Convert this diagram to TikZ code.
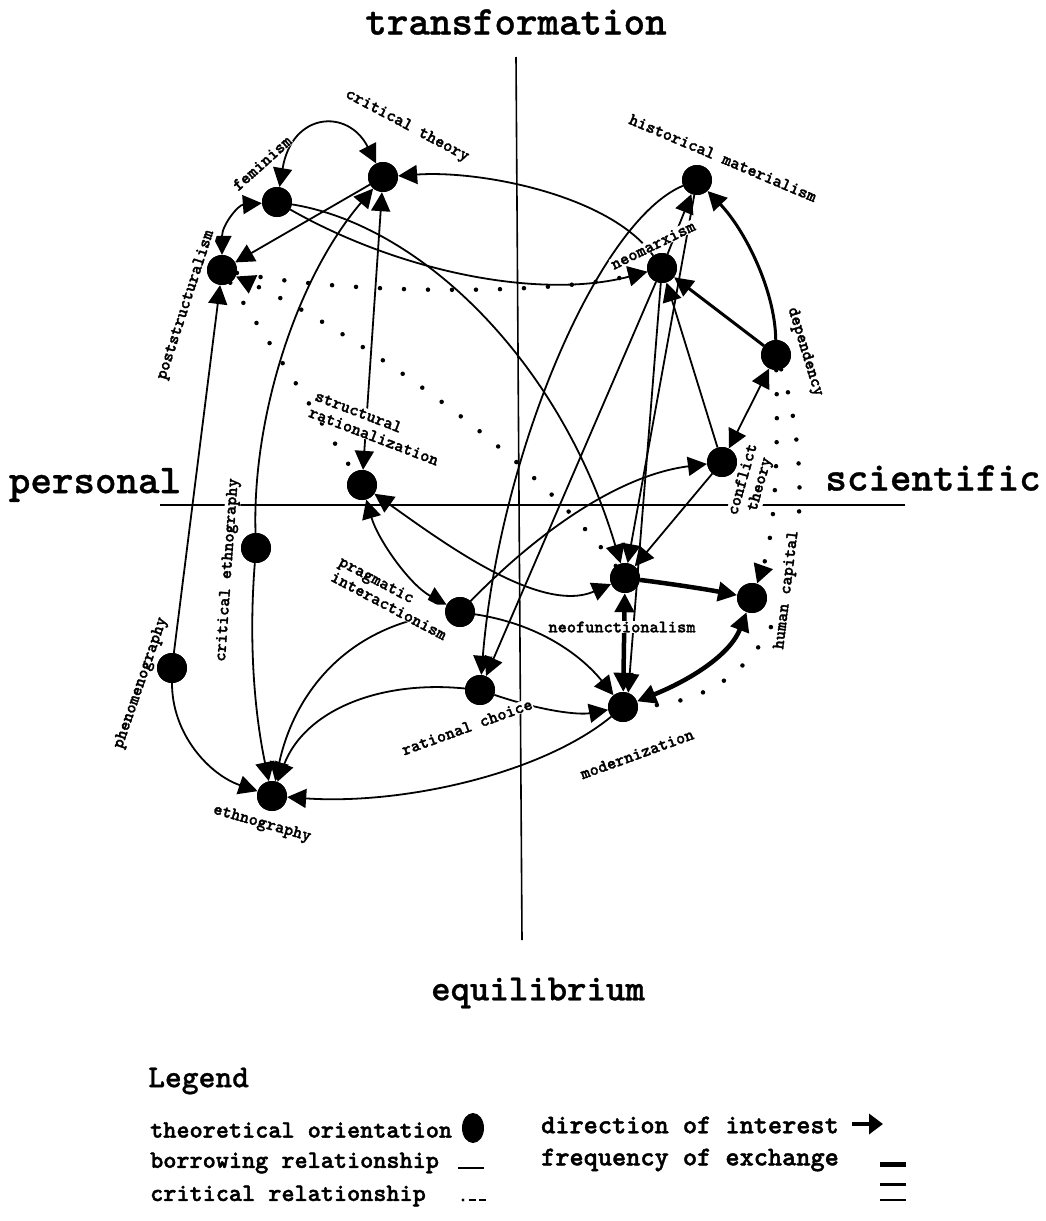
\documentclass[tikz,border=0pt]{standalone}
\usepackage{fontspec}
\newfontfamily\cour{lmmonolt10-bold}[Extension=.otf,FakeBold=1.6]
\newfontfamily\courbig{lmmonolt10-bold}[Extension=.otf,FakeBold=0.8]
\usetikzlibrary{arrows.meta,shapes.geometric}
\begin{document}
\begin{tikzpicture}[x=1pt,y=-1pt,
  tn/.style={circle,fill=black,minimum size=30pt,inner sep=0pt},
  lab/.style={font=\cour\fontsize{17.5}{17.5}\selectfont,fill=white,inner sep=0.5pt},
  axl/.style={font=\courbig\fontsize{41}{43}\selectfont},
  lgt/.style={font=\cour\fontsize{25}{27}\selectfont,anchor=west,inner sep=0pt},
  rel/.style={line width=1.8pt},
  thk/.style={line width=4.5pt},
  med/.style={line width=3pt},
  tip/.style={-{Triangle[length=19pt,width=19pt]}},
  both/.style={{Triangle[length=19pt,width=19pt]}-{Triangle[length=19pt,width=19pt]}},
  crit/.style={line width=4.5pt,line cap=round,dash pattern=on 0pt off 24pt},
  axis/.style={line width=1.6pt}
]
\useasboundingbox (0,0) rectangle (1045,1221);

% axes
\coordinate (vt) at (516,57);
\coordinate (vb) at (522,940);
\coordinate (hl) at (160,505);
\coordinate (hr) at (905,505);
\draw[axis] (vt) -- (vb);
\draw[axis] (hl) -- (hr);

% theoretical orientations (positions)
\path (383,177) node[tn] (ct) {}
      (277,202) node[tn] (fem) {}
      (222,270) node[tn] (post) {}
      (697,180) node[tn] (hm) {}
      (662,268) node[tn] (nm) {}
      (776,355) node[tn] (dep) {}
      (722,462) node[tn] (conf) {}
      (362,485) node[tn] (sr) {}
      (256,548) node[tn] (ce) {}
      (460,612) node[tn] (pi) {}
      (625,578) node[tn] (nf) {}
      (752,598) node[tn] (hc) {}
      (172,668) node[tn] (phen) {}
      (480,690) node[tn] (rc) {}
      (623,707) node[tn] (mod) {}
      (272,796) node[tn] (eth) {};

% critical relationships (dotted)
\draw[crit,tip] (post) .. controls (350,295) and (550,295) .. (nm);
\draw[crit,tip] (nf) .. controls (520,440) and (330,320) .. (post);
\draw[crit] (post) -- (sr);
\draw[crit] (dep) .. controls (810,450) and (830,700) .. (mod);
\draw[crit,tip] (dep) .. controls (778,450) and (776,530) .. (hc);

% borrowing relationships
\draw[rel,both] (fem) .. controls (292,112) and (348,108) .. (ct);
\draw[rel,both] (fem) .. controls (238,205) and (222,225) .. (post);
\draw[rel,tip] (ct) -- (post);
\draw[rel,tip] (fem) .. controls (400,272) and (540,300) .. (nm);
\draw[rel,tip] (fem) .. controls (420,225) and (560,360) .. (nf);
\draw[rel,tip] (nm) .. controls (610,195) and (480,170) .. (ct);
\draw[rel,tip] (ce) .. controls (252,420) and (295,280) .. (ct);
\draw[rel,both] (sr) -- (ct);
\draw[rel,tip] (phen) -- (post);
\draw[rel,both] (sr) .. controls (378,540) and (410,585) .. (pi);
\draw[rel,both] (sr) .. controls (440,540) and (540,615) .. (nf);
\draw[rel,tip] (pi) .. controls (540,530) and (620,475) .. (conf);
\draw[rel,tip] (pi) .. controls (545,625) and (585,660) .. (mod);
\draw[rel,tip] (pi) .. controls (350,625) and (295,690) .. (eth);
\draw[rel,tip] (rc) .. controls (380,680) and (305,710) .. (eth);
\draw[rel,tip] (mod) .. controls (540,775) and (400,805) .. (eth);
\draw[rel,tip] (phen) .. controls (172,735) and (210,775) .. (eth);
\draw[rel,tip] (ce) .. controls (248,650) and (256,720) .. (eth);
\draw[rel,tip] (rc) .. controls (545,712) and (580,715) .. (mod);
\draw[thk,tip] (nf) .. controls (680,585) and (710,590) .. (hc);
\draw[thk,both] (mod) .. controls (690,680) and (730,655) .. (hc);
\draw[thk,both] (nf) -- (mod);
\draw[rel,tip] (nm) -- (mod.70);
\draw[rel,tip] (hm) .. controls (600,220) and (500,450) .. (rc);
\draw[rel,tip] (nm) -- (rc);
\draw[rel,tip] (hm) -- (nf);
\draw[rel,tip] (nm) -- (hm);
\draw[med,tip] (dep) .. controls (775,290) and (745,230) .. (hm);
\draw[med,tip] (dep) -- (nm);
\draw[rel,both] (dep) -- (conf);
\draw[rel,tip] (conf) -- (nf);
\draw[rel,tip] (conf) -- (nm);

% labels
\node[lab,rotate=-28] (lct) at (407,126) {critical theory};
\node[lab,rotate=42] (lfem) at (262,163) {feminism};
\node[lab,rotate=72] (lpost) at (186,305) {poststructuralism};
\node[lab,rotate=-23] (lhm) at (723,158) {historical materialism};
\node[lab,rotate=26] (lnm) at (653,245) {neomarxism};
\node[lab,rotate=-73] (ldep) at (805,352) {dependency};
\node[lab,rotate=74,align=center] (lconf) at (752,482) {conflict\\theory};
\node[lab,rotate=-21,align=left] (lsr) at (377,428) {structural\\rationalization};
\node[lab,rotate=86] (lce) at (228,570) {critical ethnography};
\node[lab,rotate=-28,align=left] (lpi) at (393,598) {pragmatic\\interactionism};
\node[lab] (lnf) at (622,627) {neofunctionalism};
\node[lab,rotate=83] (lhc) at (787,590) {human capital};
\node[lab,rotate=20] (lmod) at (637,754) {modernization};
\node[lab,rotate=20] (lrc) at (467,727) {rational choice};
\node[lab,rotate=-16] (leth) at (262,824) {ethnography};
\node[lab,rotate=71] (lphen) at (141,683) {phenomenography};

% nodes drawn again on top of the label backgrounds
\foreach \n in {ct,fem,post,hm,nm,dep,conf,sr,ce,pi,nf,hc,phen,rc,mod,eth}
  \fill (\n) circle (15pt);

% axis labels
\node[axl] (tr) at (516,22) {transformation};
\node[axl] (pe) at (95,485) {personal};
\node[axl] (sc) at (933,478) {scientific};
\node[axl,font=\courbig\fontsize{37}{39}\selectfont] (eq) at (538,993) {equilibrium};

% legend
\node[anchor=west,inner sep=0pt,font=\courbig\fontsize{32}{34}\selectfont] (leg) at (148,1081) {Legend};
\node[lgt] (l1) at (150,1130) {theoretical orientation};
\node[lgt] (l2) at (150,1163) {borrowing relationship};
\node[lgt] (l3) at (150,1196) {critical relationship};
\node[lgt,font=\cour\fontsize{27}{29}\selectfont] (l4) at (541,1125) {direction of interest};
\node[lgt,font=\cour\fontsize{27}{29}\selectfont] (l5) at (541,1160) {frequency of exchange};
\node[ellipse,fill=black,minimum width=22pt,minimum height=30pt,inner sep=0pt] (lsym) at (473,1128) {};
\coordinate (b1) at (458,1168); \coordinate (b2) at (484,1168);
\draw[line width=2.5pt] (b1) -- (b2);
\coordinate (c0) at (463,1200); \coordinate (c1) at (469,1200); \coordinate (c2) at (476,1200);
\coordinate (c3) at (479,1200); \coordinate (c4) at (486,1200);
\fill (c0) circle (1.6pt);
\draw[line width=2.5pt] (c1) -- (c2) (c3) -- (c4);
\coordinate (a1) at (852,1124); \coordinate (a2) at (883,1124);
\draw[line width=4pt,-{Triangle[length=14pt,width=20pt]}] (a1) -- (a2);
\coordinate (f1) at (880,1164); \coordinate (f2) at (906,1164);
\coordinate (f3) at (880,1184); \coordinate (f4) at (906,1184);
\coordinate (f5) at (880,1200); \coordinate (f6) at (906,1200);
\draw[line width=5pt] (f1) -- (f2);
\draw[line width=3pt] (f3) -- (f4);
\draw[line width=1.5pt] (f5) -- (f6);
\end{tikzpicture}
\end{document}
